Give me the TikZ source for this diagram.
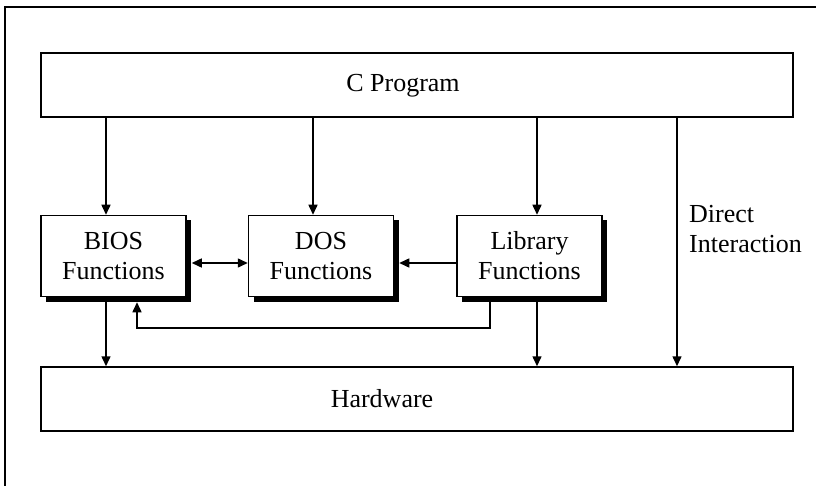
\documentclass[tikz,border=0pt]{standalone}
\usepackage{fontspec}
\setmainfont{Liberation Serif}
\usetikzlibrary{arrows.meta,shadows}
\begin{document}
\begin{tikzpicture}[x=1pt,y=-1pt,
  every node/.style={font=\fontsize{26}{30}\selectfont},
  wide/.style={draw,line width=1.5pt,minimum width=752pt,minimum height=64pt,inner sep=0pt},
  fbox/.style={draw,line width=1.5pt,fill=white,minimum width=145pt,minimum height=81pt,align=center,inner sep=0pt,
    drop shadow={shadow xshift=5pt,shadow yshift=-5pt,opacity=1,fill=black}},
  lbl/.style={inner sep=0pt},
  arr/.style={line width=1.5pt,-{Triangle[length=10pt,width=9pt]}},
  darr/.style={line width=1.5pt,{Triangle[length=10pt,width=9pt]}-{Triangle[length=10pt,width=9pt]}},
  ln/.style={line width=1.5pt}]
\useasboundingbox (0,0) rectangle (816,486);
\draw[ln] (5,486) -- (5,7) -- (816,7);
\node[wide] (cprog) at (417,85) {};
\node[lbl,anchor=base] (ctext) at (403,92) {C Program};
\node[wide] (hw) at (417,399) {};
\node[lbl,anchor=base] (hwtext) at (382,407) {Hardware};
\node[fbox] (bios) at (113.5,256) {BIOS\\Functions};
\node[fbox] (dos) at (321,256) {DOS\\Functions};
\node[fbox] (lib) at (529.5,256) {Library\\Functions};
\node[lbl,anchor=west,align=left] (direct) at (689,229) {Direct\\Interaction};
% from C program
\draw[arr] (cprog.south -| 106,0) -- (bios.north -| 106,0);
\draw[arr] (cprog.south -| 313,0) -- (dos.north -| 313,0);
\draw[arr] (cprog.south -| 537,0) -- (lib.north -| 537,0);
\draw[arr] (cprog.south -| 677,0) -- (hw.north -| 677,0);
% middle
\draw[darr] ([xshift=5pt]bios.east |- 0,263) -- (dos.west |- 0,263);
\draw[arr] (lib.west |- 0,263) -- ([xshift=5pt]dos.east |- 0,263);
\draw[arr] ([yshift=-5pt]lib.south -| 490,0) -- (490,328) -| ([yshift=-5pt]bios.south -| 137,0);
% to hardware
\draw[arr] (bios.south -| 106,0) -- (hw.north -| 106,0);
\draw[arr] (lib.south -| 537,0) -- (hw.north -| 537,0);
\end{tikzpicture}
\end{document}
